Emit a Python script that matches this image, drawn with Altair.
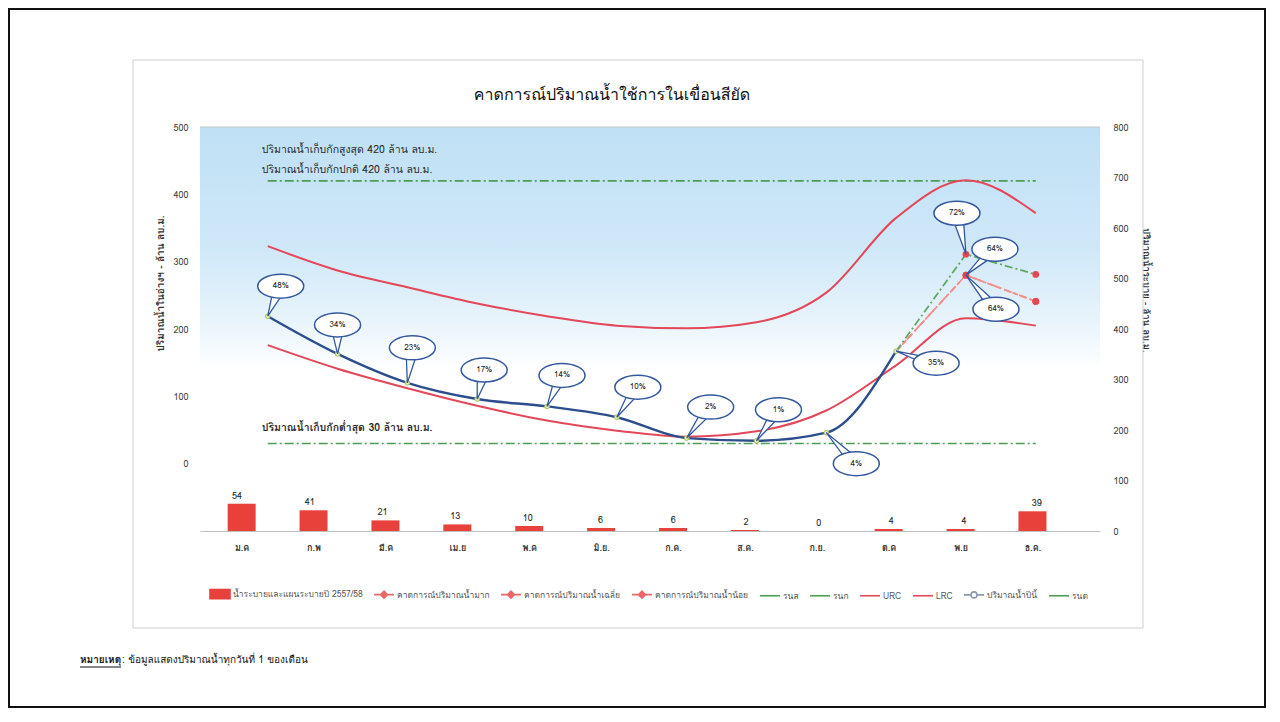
import json
import math
import altair as alt
import pandas as pd

# ---------------- data ----------------
months = ["ม.ค", "ก.พ", "มี.ค", "เม.ย", "พ.ค", "มิ.ย.", "ก.ค.", "ส.ค.", "ก.ย.", "ต.ค", "พ.ย", "ธ.ค."]
release = [54, 41, 21, 13, 10, 6, 6, 2, 0, 4, 4, 39]
urc = [323, 287, 262, 238, 219, 205, 201, 210, 254, 365, 421, 372]
lrc = [176, 141, 112, 86, 64, 49, 40, 48, 79, 146, 216, 205]
storage_now = [219, 163, 120, 96, 85, 69, 38, 34, 46, 167]
pct_now = [48, 34, 23, 17, 14, 10, 2, 1, 4, 35]
fc_index = [9, 10, 11]
fc_high = [167, 311, 281]
fc_avg = [167, 280, 241]
fc_low = [167, 280, 241]
fc_pct_nov = [72, 64, 64]
level_max = 420
level_normal = 420
level_min = 30

title_text = "คาดการณ์ปริมาณน้ำใช้การในเขื่อนสียัด"
left_title = "ปริมาณน้ำในอ่างฯ - ล้าน ลบ.ม."
right_title = "ปริมาณน้ำระบาย - ล้าน ลบ.ม."
note_max = "ปริมาณน้ำเก็บกักสูงสุด 420 ล้าน ลบ.ม."
note_normal = "ปริมาณน้ำเก็บกักปกติ 420 ล้าน ลบ.ม."
note_min = "ปริมาณน้ำเก็บกักต่ำสุด 30 ล้าน ลบ.ม."
legend_names = ["น้ำระบายและแผนระบายปี 2557/58", "คาดการณ์ปริมาณน้ำมาก", "คาดการณ์ปริมาณน้ำเฉลี่ย",
                "คาดการณ์ปริมาณน้ำน้อย", "รนส", "รนก", "URC", "LRC", "ปริมาณน้ำปีนี้", "รนต"]
foot_bold = "หมายเหตุ"
foot_text = ": ข้อมูลแสดงปริมาณน้ำทุกวันที่ 1 ของเดือน"

# ---------------- tables ----------------
df = pd.DataFrame({"i": list(range(12)), "month": months, "release": release,
                   "urc": urc, "lrc": lrc,
                   "rns": [level_max] * 12, "rnk": [level_normal] * 12, "rnt": [level_min] * 12})
df_now = pd.DataFrame({"i": list(range(len(storage_now))), "v": storage_now,
                       "pct": [f"{p}%" for p in pct_now]})
fc_rows = []
for name, vals in (("high", fc_high), ("avg", fc_avg), ("low", fc_low)):
    for i, v in zip(fc_index, vals):
        fc_rows.append({"i": i, "v": v, "scen": name})
df_fc = pd.DataFrame(fc_rows)
df_fc_call = pd.DataFrame({"i": [fc_index[1]] * 3, "v": [fc_high[1], fc_avg[1], fc_low[1]],
                           "pct": [f"{p}%" for p in fc_pct_nov]})
df_one = pd.DataFrame({"k": [0]})
df_notes = pd.DataFrame({"i": [0, 0, 0], "v": [level_max, level_normal, level_min],
                         "t": [note_max, note_normal, note_min], "n": [0, 1, 2]})
df_leg = pd.DataFrame({"series": legend_names})

# ---------------- styling ----------------
FONT = "Tahoma, Loma, Garuda, 'Noto Sans Thai', 'Noto Sans', sans-serif"
W, H = 900, 404
XL = [-0.97, 11.92]   # line series horizontal scale
XB = [-0.51, 11.87]   # bar series horizontal scale
YL = [-100, 500]
YR = [0, 800]
RED = "#E2475A"
GREEN = "#4E9D55"
BLUE = "#2C4E8C"
BAR = "#E8413C"
BUB = "#3458A0"

# callout placement: pixel offset of each bubble centre from its point (style only)
offs_now = [(13, -30), (0, -29), (5, -35), (7, -29), (15, -31), (21, -30), (24, -31), (22, -31),
            (30, 31), (40, 12)]
offs_fc = [(-9, -41), (29, -26), (30, 34)]
RX, RY = 23, 12


def r2(v):
    return f"{v:.2f}"


def ellipse_path(cx, cy, rx, ry):
    k = 0.5523
    return (f"M{r2(cx-rx)},{r2(cy)}C{r2(cx-rx)},{r2(cy-k*ry)} {r2(cx-k*rx)},{r2(cy-ry)} {r2(cx)},{r2(cy-ry)}"
            f"C{r2(cx+k*rx)},{r2(cy-ry)} {r2(cx+rx)},{r2(cy-k*ry)} {r2(cx+rx)},{r2(cy)}"
            f"C{r2(cx+rx)},{r2(cy+k*ry)} {r2(cx+k*rx)},{r2(cy+ry)} {r2(cx)},{r2(cy+ry)}"
            f"C{r2(cx-k*rx)},{r2(cy+ry)} {r2(cx-rx)},{r2(cy+k*ry)} {r2(cx-rx)},{r2(cy)}Z")


def tail_path(cx, cy, rx, ry):
    th = math.atan2(-cy / ry, -cx / rx)
    pts = []
    for d in (-0.26, 0.26):
        pts.append((cx + 0.8 * rx * math.cos(th + d), cy + 0.8 * ry * math.sin(th + d)))
    return f"M0,0L{r2(pts[0][0])},{r2(pts[0][1])}L{r2(pts[1][0])},{r2(pts[1][1])}Z"


def xl(field="i"):
    return alt.X(f"{field}:Q", scale=alt.Scale(domain=XL, nice=False, zero=False), axis=None)


def xb(field="i", axis=None):
    return alt.X(f"{field}:Q", scale=alt.Scale(domain=XB, nice=False, zero=False), axis=axis)


def yl(field, axis=None):
    return alt.Y(f"{field}:Q", scale=alt.Scale(domain=YL, nice=False, zero=False), axis=axis)


def yr(field, axis=None):
    return alt.Y(f"{field}:Q", scale=alt.Scale(domain=YR, nice=False, zero=True), axis=axis)


layers = []

# outer page frame and chart frame (decoration)
layers.append(alt.Chart(df_one).mark_rect(filled=False, stroke="#111111", strokeWidth=2).encode(
    x=alt.value(-191), x2=alt.value(1065), y=alt.value(-118), y2=alt.value(580)))
layers.append(alt.Chart(df_one).mark_rect(filled=False, stroke="#CFCFCF", strokeWidth=1).encode(
    x=alt.value(-67), x2=alt.value(943), y=alt.value(-67), y2=alt.value(501)))

# plot background gradient
grad = alt.LinearGradient(gradient="linear", x1=0, x2=0, y1=0, y2=1, stops=[
    alt.GradientStop(color="#BFE0F5", offset=0),
    alt.GradientStop(color="#CFE8F8", offset=0.3),
    alt.GradientStop(color="#E6F3FB", offset=0.47),
    alt.GradientStop(color="#FFFFFF", offset=0.6),
    alt.GradientStop(color="#FFFFFF", offset=1)])
layers.append(alt.Chart(df_one).mark_rect(color=grad).encode(
    x=alt.value(0), x2=alt.value(W), y=alt.value(0), y2=alt.value(H)))
layers.append(alt.Chart(df_one).mark_rule(color="#C8C8C8", strokeWidth=1).encode(
    x=alt.value(0), x2=alt.value(W), y=alt.value(0)))

# bars (right axis) with month axis
month_expr = json.dumps(months, ensure_ascii=False) + "[datum.value]"
x_axis = alt.Axis(values=list(range(12)), labelExpr=month_expr, ticks=False, grid=False,
                  domain=True, domainColor="#BFBFBF", labelPadding=12, labelFontSize=9,
                  labelFontWeight="bold", labelColor="#333333", title=None)
r_axis = alt.Axis(orient="right", values=list(range(0, 801, 100)), ticks=False, grid=False,
                  domain=False, labelPadding=13, labelFontSize=9, labelColor="#404040",
                  title=right_title, titleAngle=90, titleX=45, titleY=163, titleFontSize=9.5,
                  titleFontWeight="bold", titleColor="#333333", titleAlign="center", titleBaseline="middle")
layers.append(alt.Chart(df).mark_bar(size=28, color=BAR).encode(
    x=xb("i", x_axis), y=yr("release", r_axis)))
layers.append(alt.Chart(df).mark_text(dy=-8, fontSize=9, color="#222222").encode(
    x=xb("i"), y=yr("release"), text="release:Q"))

# reference levels
dash = [9, 3, 2, 3]
l_axis = alt.Axis(orient="left", values=list(range(0, 501, 100)), ticks=False, grid=False,
                  domain=False, labelPadding=12, labelFontSize=9, labelColor="#404040",
                  title=left_title, titleAngle=-90, titleX=-40, titleY=156, titleFontSize=10,
                  titleFontWeight="bold", titleColor="#333333", titleAlign="center", titleBaseline="middle")
layers.append(alt.Chart(df).mark_line(color=GREEN, strokeWidth=1.6, strokeDash=dash).encode(
    x=xl(), y=yl("rns", l_axis)))
layers.append(alt.Chart(df).mark_line(color=GREEN, strokeWidth=1.6, strokeDash=dash).encode(
    x=xl(), y=yl("rnt")))

# rule curves
layers.append(alt.Chart(df).mark_line(color=RED, strokeWidth=2, interpolate="monotone").encode(
    x=xl(), y=yl("urc")))
layers.append(alt.Chart(df).mark_line(color=RED, strokeWidth=2, interpolate="monotone").encode(
    x=xl(), y=yl("lrc")))

# forecasts
fc_style = {"high": ("#5FA864", [8, 3, 2, 3]), "avg": ("#F0908A", [6, 3]), "low": ("#F0908A", [8, 3, 2, 3])}
for scen in ("low", "avg", "high"):
    c, d = fc_style[scen]
    layers.append(alt.Chart(df_fc).transform_filter(alt.datum.scen == scen).mark_line(
        color=c, strokeWidth=1.8, strokeDash=d).encode(x=xl(), y=yl("v")))
layers.append(alt.Chart(df_fc).transform_filter(alt.datum.i >= 10).mark_point(
    filled=True, color="#E8454E", size=45, opacity=1).encode(x=xl(), y=yl("v")))

# this year's storage
layers.append(alt.Chart(df_now).mark_line(color=BLUE, strokeWidth=2.4, interpolate="monotone").encode(
    x=xl(), y=yl("v")))
layers.append(alt.Chart(df_now).mark_point(filled=True, fill="#E4EFB4", stroke="#A6BF5C", strokeWidth=1,
                                           size=22, opacity=1).encode(x=xl(), y=yl("v")))

# level notes
for k, dy, fw in ((0, -31, "normal"), (1, -11, "normal"), (2, -15, "bold")):
    layers.append(alt.Chart(df_notes).transform_filter(alt.datum.n == k).mark_text(
        align="left", dx=-6, dy=dy, fontSize=10.5, fontWeight=fw, color="#2A2A2A").encode(
        x=xl(), y=yl("v"), text="t:N"))

# callouts
df_call = pd.concat([df_now, df_fc_call], ignore_index=True)
df_call["c"] = list(range(len(df_call)))
offsets = offs_now + offs_fc
for c, (ox, oy) in enumerate(offsets):
    base = alt.Chart(df_call).transform_filter(alt.datum.c == c)
    layers.append(base.mark_point(shape=tail_path(ox, oy, RX, RY), size=4, filled=True, fill="white",
                                  stroke=BUB, strokeWidth=1.3, opacity=1).encode(x=xl(), y=yl("v")))
    layers.append(base.mark_point(shape=ellipse_path(ox, oy, RX, RY), size=4, filled=True, fill="white",
                                  stroke=BUB, strokeWidth=1.5, opacity=1).encode(x=xl(), y=yl("v")))
    layers.append(base.mark_text(dx=ox, dy=oy, fontSize=8, color="#222222", align="center",
                                 baseline="middle").encode(x=xl(), y=yl("v"), text="pct:N"))

# title
layers.append(alt.Chart(df_one).mark_text(text=title_text, fontSize=16, color="#111111", align="center",
                                          baseline="middle").encode(x=alt.value(412), y=alt.value(-32)))

# footnote
layers.append(alt.Chart(df_one).mark_text(text=foot_bold, fontSize=10, fontWeight="bold", color="#111111",
                                          align="left", baseline="middle").encode(x=alt.value(-120), y=alt.value(533)))
layers.append(alt.Chart(df_one).mark_rule(color="#111111", strokeWidth=1).encode(
    x=alt.value(-120), x2=alt.value(-79), y=alt.value(540)))
layers.append(alt.Chart(df_one).mark_text(text=foot_text, fontSize=10, color="#111111",
                                          align="left", baseline="middle").encode(x=alt.value(-78), y=alt.value(533)))

# legend (driven by an explicit domain)
leg_stroke = [BAR, "#E8676B", "#E8676B", "#E8676B", GREEN, GREEN, RED, RED, "#8A9AB2", GREEN]
leg_fill = [BAR, "#E8676B", "#E8676B", "#E8676B", GREEN, GREEN, RED, RED, "#FFFFFF", GREEN]
P_RECT = "M-1,-0.45H1V0.45H-1Z"
P_LD = "M-1,0H1M0,-0.35L0.35,0L0,0.35L-0.35,0Z"
P_L = "M-1,0H1"
P_LC = "M-1,0H-0.3M0.3,0H1M-0.3,0A0.3,0.3 0 1,1 0.3,0A0.3,0.3 0 1,1 -0.3,0"
leg_shapes = [P_RECT, P_LD, P_LD, P_LD, P_L, P_L, P_L, P_L, P_LC, P_L]
leg = alt.Legend(title=None, orient="none", legendX=9, legendY=456, direction="horizontal", columns=10,
                 labelFontSize=8.5, labelColor="#555555", symbolSize=400, columnPadding=7,
                 labelOffset=2, symbolStrokeWidth=1.6)
layers.append(alt.Chart(df_leg).transform_filter("false").mark_point(filled=True, opacity=1, strokeWidth=1.6).encode(
    fill=alt.Fill("series:N", scale=alt.Scale(domain=legend_names, range=leg_fill), legend=leg),
    stroke=alt.Stroke("series:N", scale=alt.Scale(domain=legend_names, range=leg_stroke), legend=leg),
    shape=alt.Shape("series:N", scale=alt.Scale(domain=legend_names, range=leg_shapes), legend=leg)))

chart = alt.layer(*layers).resolve_scale(x="independent", y="independent").properties(
    width=W, height=H,
    autosize=alt.AutoSizeParams(type="none"),
    padding={"left": 192, "top": 119, "right": 166, "bottom": 177},
    background="white",
).configure(font=FONT).configure_view(stroke=None)

chart.save("out.html", embed_options={"renderer": "svg", "actions": False})
